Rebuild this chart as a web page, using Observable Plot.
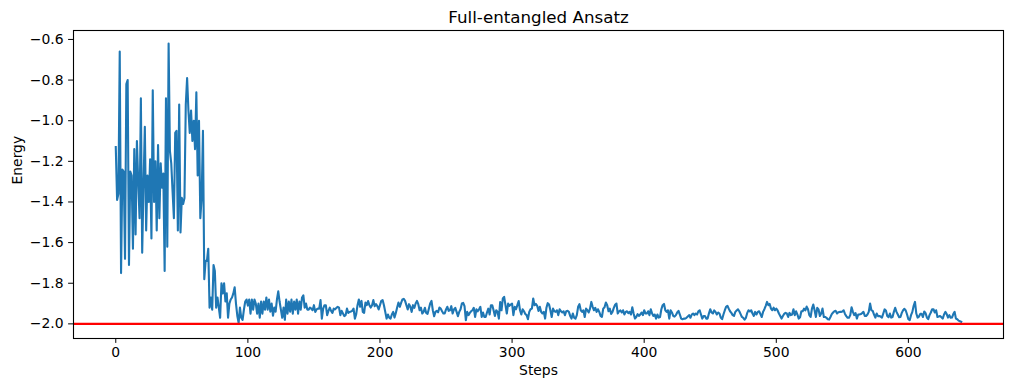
<!DOCTYPE html>
<html>
<head>
<meta charset="utf-8">
<script src="https://cdn.jsdelivr.net/npm/d3@7"></script>
<script src="https://cdn.jsdelivr.net/npm/@observablehq/plot@0.6"></script>
<style>
  body { margin: 0; background: #ffffff; }
  #chart svg { display: block; background: #ffffff; }
</style>
</head>
<body>
<div id="chart"></div>
<script>
const title = "Full-entangled Ansatz";
const xLabel = "Steps";
const yLabel = "Energy";
const xTicks = [0, 100, 200, 300, 400, 500, 600];
const yTicks = [-2.0, -1.8, -1.6, -1.4, -1.2, -1.0, -0.8, -0.6];
const referenceEnergy = [-2.0];

// energy per optimisation step (index = step)
const energyEarly = [
  -1.13, -1.39, -1.36, -0.66, -1.75, -1.24, -1.25, -1.68, -0.82, -0.80,
  -1.71, -1.25, -1.27, -1.63, -1.14, -1.56, -1.10, -1.30, -1.48, -0.89,
  -1.65, -1.32, -1.03, -1.54, -1.27, -1.40, -1.19, -1.58, -0.85, -1.40,
  -1.20, -1.54, -1.12, -1.48, -1.21, -1.33, -1.26, -1.74, -0.89, -1.62,
  -0.62, -1.15, -1.21, -1.35, -1.48, -1.06, -1.05, -1.54, -0.92, -1.55,
  -1.38, -1.41, -1.38, -0.92, -0.79, -0.95, -1.06, -0.95, -1.10, -1.00,
  -1.14, -0.86, -1.27, -1.00, -1.48, -1.38, -1.05, -1.78, -1.69, -1.69,
  -1.63
];
const energySettle = [
  -1.92, -1.87, -1.93, -1.71, -1.74, -1.92, -1.87, -1.92, -1.97, -1.80,
  -1.85, -1.80, -1.89, -1.85, -1.97, -1.90, -1.88, -1.87, -1.85, -1.82,
  -1.90, -1.96, -1.995, -1.92, -1.97, -1.98, -1.93, -1.89, -1.88, -1.91,
  -1.88, -1.95, -1.88, -1.93, -1.88, -1.90, -1.95, -1.90, -1.97, -1.89,
  -1.95, -1.89, -1.93, -1.87, -1.93, -1.88, -1.94, -1.90, -1.96, -1.92,
  -1.94, -1.88, -1.84, -1.89, -1.93, -1.97, -1.92, -1.98, -1.88, -1.95,
  -1.89, -1.94, -1.88, -1.95, -1.89, -1.93, -1.88, -1.95, -1.89, -1.93,
  -1.87, -1.86, -1.92, -1.90, -1.93, -1.93, -1.92
];
const energyMid = [
  -1.925, -1.933, -1.908, -1.941, -1.929, -1.925, -1.925, -1.883, -1.974, -1.925,
  -1.908, -1.908, -1.957, -1.936, -1.920, -1.936, -1.946, -1.925, -1.929, -1.921,
  -1.916, -1.920, -1.957, -1.936, -1.949, -1.962, -1.957, -1.925, -1.946, -1.941,
  -1.939, -1.936, -1.925, -1.974, -1.952, -1.908, -1.880, -1.916, -1.887, -1.941,
  -1.946, -1.895, -1.908, -1.888, -1.908, -1.920, -1.908, -1.883, -1.913, -1.903,
  -1.913, -1.929, -1.908, -1.887, -1.883, -1.908, -1.941, -1.974, -1.954, -1.969,
  -1.974, -1.954, -1.941, -1.969, -1.946, -1.920, -1.895, -1.916, -1.897, -1.880,
  -1.877, -1.887, -1.908, -1.929, -1.903, -1.916, -1.941, -1.908, -1.921, -1.900,
  -1.887, -1.903, -1.933, -1.920, -1.949, -1.941, -1.921, -1.946, -1.951, -1.925,
  -1.900, -1.887, -1.933, -1.962, -1.941, -1.936, -1.943, -1.920, -1.925, -1.938,
  -1.949, -1.949, -1.929, -1.916, -1.936, -1.933, -1.913, -1.949, -1.929, -1.921,
  -1.941, -1.962, -1.941, -1.928, -1.900, -1.897, -1.913, -1.982, -1.941, -1.957,
  -1.946
];
const energyLate1 = [
  -1.938, -1.933, -1.921, -1.966, -1.928, -1.938, -1.928, -1.916, -1.966, -1.944,
  -1.966, -1.966, -1.944, -1.925, -1.954, -1.908, -1.908, -1.933, -1.961, -1.933,
  -1.941, -1.974, -1.892, -1.933, -1.875, -1.867, -1.908, -1.949, -1.900, -1.911,
  -1.905, -1.900, -1.957, -1.916, -1.928, -1.908, -1.888, -1.933, -1.954, -1.928,
  -1.938, -1.951, -1.957, -1.977, -1.941, -1.928, -1.925, -1.875, -1.908, -1.902,
  -1.911, -1.936, -1.916, -1.941, -1.949, -1.941, -1.974, -1.921, -1.898, -1.905,
  -1.933, -1.966, -1.925, -1.938, -1.941, -1.933, -1.957, -1.928, -1.938, -1.944,
  -1.938, -1.957, -1.938, -1.936, -1.941, -1.961, -1.974, -1.949, -1.970, -1.974,
  -1.957, -1.916, -1.903, -1.933, -1.941, -1.933, -1.966, -1.925, -1.933, -1.944,
  -1.925, -1.892, -1.916, -1.933, -1.921, -1.941, -1.928, -1.941, -1.961, -1.966,
  -1.925, -1.918, -1.895, -1.908, -1.938, -1.925, -1.951, -1.941, -1.921, -1.906,
  -1.900, -1.949, -1.938, -1.934, -1.944, -1.933, -1.954, -1.941, -1.938, -1.947,
  -1.941, -1.954
];
const energyLate2 = [
  -1.918, -1.949, -1.974, -1.966, -1.952, -1.961, -1.954, -1.944, -1.957, -1.933,
  -1.949, -1.949, -1.938, -1.957, -1.928, -1.949, -1.961, -1.954, -1.974, -1.954,
  -1.969, -1.966, -1.928, -1.908, -1.902, -1.933, -1.941, -1.933, -1.974, -1.933,
  -1.944, -1.961, -1.964, -1.957, -1.944, -1.936, -1.954, -1.974, -1.977, -1.974,
  -1.974, -1.970, -1.964, -1.957, -1.970, -1.954, -1.949, -1.957, -1.949, -1.954,
  -1.938, -1.933, -1.954, -1.974, -1.961, -1.961, -1.974, -1.974, -1.949, -1.928,
  -1.944, -1.949, -1.934, -1.941, -1.954, -1.944, -1.949, -1.969, -1.977, -1.954,
  -1.934, -1.916, -1.911, -1.925, -1.938, -1.946, -1.957, -1.961, -1.941, -1.934,
  -1.928, -1.938, -1.952, -1.966, -1.970, -1.979, -1.970, -1.946, -1.933, -1.939,
  -1.933, -1.949, -1.961, -1.941, -1.954, -1.941, -1.938, -1.952, -1.966, -1.941,
  -1.928, -1.911, -1.892, -1.908, -1.902, -1.925, -1.933, -1.920, -1.933, -1.925,
  -1.934, -1.949, -1.961, -1.974, -1.961, -1.951, -1.946, -1.949, -1.966, -1.946,
  -1.957, -1.954, -1.928, -1.957, -1.938, -1.954, -1.974, -1.967
];
const energyLate3 = [
  -1.938, -1.938, -1.925, -1.934, -1.915, -1.928, -1.957, -1.966, -1.925, -1.905,
  -1.933, -1.966, -1.921, -1.929, -1.961, -1.949, -1.925, -1.966, -1.966, -1.970,
  -1.977, -1.979, -1.966, -1.952, -1.944, -1.938, -1.936, -1.949, -1.943, -1.941,
  -1.941, -1.939, -1.933, -1.951, -1.962, -1.970, -1.970, -1.957, -1.918, -1.941,
  -1.957, -1.947, -1.974, -1.954, -1.954, -1.952, -1.947, -1.941, -1.961, -1.961,
  -1.954, -1.941, -1.900, -1.933, -1.936, -1.954, -1.969, -1.949, -1.962, -1.961,
  -1.964, -1.969, -1.949, -1.929, -1.934, -1.961, -1.967, -1.949, -1.969, -1.966,
  -1.941, -1.921, -1.941, -1.954, -1.967, -1.966, -1.946, -1.933, -1.926, -1.934,
  -1.954, -1.977, -1.982, -1.957, -1.941, -1.911, -1.892, -1.949, -1.969, -1.964,
  -1.951, -1.951, -1.966, -1.939, -1.947, -1.969, -1.977, -1.957, -1.944, -1.928,
  -1.928, -1.944, -1.933, -1.966, -1.964, -1.961, -1.967, -1.974, -1.954, -1.941,
  -1.952, -1.969, -1.957, -1.970, -1.969, -1.952, -1.941, -1.974, -1.977, -1.984,
  -1.987, -1.990
];

const energy = [...energyEarly, ...energySettle, ...energyMid, ...energyLate1, ...energyLate2, ...energyLate3];
const data = energy.map((e, i) => ({step: i, energy: e}));

const font = "DejaVu Sans, sans-serif";

const chart = Plot.plot({
  width: 1013,
  height: 391,
  marginLeft: 73,
  marginRight: 10,
  marginTop: 30,
  marginBottom: 53,
  style: {fontFamily: font, fontSize: "13.9px", color: "#000", background: "#fff"},
  x: {domain: [-32, 672]},
  y: {domain: [-2.072, -0.556]},
  marks: [
    Plot.lineY(data, {x: "step", y: "energy", stroke: "#1f77b4", strokeWidth: 2.1, strokeLinejoin: "round", strokeLinecap: "square"}),
    Plot.ruleY(referenceEnergy, {stroke: "#ff0000", strokeWidth: 2.1}),
    Plot.frame({stroke: "#000", strokeWidth: 1.1}),
    Plot.axisX({ticks: xTicks, tickSize: 4.9, tickPadding: 4, tickFormat: d3.format("d"), label: null, fontSize: 13.9}),
    Plot.axisY({ticks: yTicks, tickSize: 4.9, tickPadding: 5, tickFormat: d3.format(".1f"), label: null, fontSize: 13.9}),
    Plot.text([xLabel], {frameAnchor: "bottom", dy: 36, fontSize: 13.9, fill: "#000"}),
    Plot.text([yLabel], {frameAnchor: "left", dx: -56, rotate: -90, fontSize: 13.9, fill: "#000"}),
    Plot.text([title], {frameAnchor: "top", lineAnchor: "middle", dy: -13, fontSize: 16.7, fill: "#000"})
  ]
});
document.getElementById("chart").append(chart);
</script>
</body>
</html>
